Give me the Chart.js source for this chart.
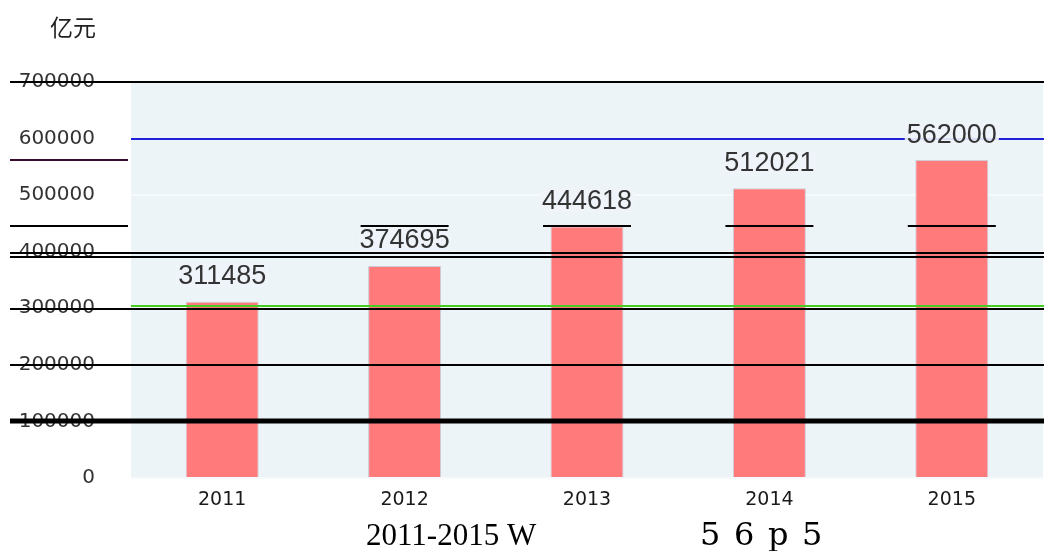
<!DOCTYPE html>
<html>
<head>
<meta charset="utf-8">
<title>2011-2015</title>
<script src="https://cdn.jsdelivr.net/npm/chart.js"></script>
<style>
  html, body { margin: 0; padding: 0; background: #fff; }
  #wrap { width: 1044px; height: 551px; position: relative; }
</style>
</head>
<body>
<div id="wrap"><canvas id="chart" width="1044" height="551"></canvas></div>
<script>
// chart data
const years = ['2011', '2012', '2013', '2014', '2015'];
const amounts = [311485, 374695, 444618, 512021, 562000];
const yTicks = [0, 100000, 200000, 300000, 400000, 500000, 600000, 700000];
const unitLabel = '亿元';
const titleLeft = '2011-2015 W';
const titleRight = '56p5';

// plot background + the stray rule lines of the original
const backdrop = {
  id: 'backdrop',
  beforeDraw(chart) {
    const { ctx, chartArea: a } = chart;
    ctx.save();
    ctx.fillStyle = '#edf4f8';
    ctx.fillRect(a.left, a.top, a.right - a.left, a.bottom - a.top);
    ctx.restore();
  },
  afterDatasetsDraw(chart) {
    const { ctx, chartArea: a } = chart;
    const y = chart.scales.y;
    const x = chart.scales.x;
    const W = chart.width;
    const line = (v, color, width, x0, x1, dy = 0) => {
      const py = Math.round(y.getPixelForValue(v)) + dy;
      ctx.strokeStyle = color;
      ctx.lineWidth = width;
      ctx.beginPath();
      ctx.moveTo(x0, py);
      ctx.lineTo(x1, py);
      ctx.stroke();
    };
    ctx.save();
    line(700000, '#000', 2, 10, W);
    line(600000, '#2020d8', 2, a.left, W);
    line(amounts[4], '#3a0a30', 2, 10, a.left - 3);
    // short rules at the 2013 level
    line(amounts[2], '#000', 2, 10, a.left - 3, 0);
    x.ticks.forEach((t, i) => {
      if (i === 0) return;
      const cx = x.getPixelForTick(i);
      line(amounts[2], '#000', 2, cx - 44, cx + 44);
    });
    line(400000, '#000', 2, 10, W, 1);
    line(400000, '#000', 2, 10, W, 5);
    line(300000, '#44cc22', 2, a.left, W, -2);
    line(300000, '#000', 2, 10, W, 1);
    line(200000, '#000', 2, 10, W);
    line(100000, '#000', 5, 10, W);
    ctx.restore();
  },
  afterDraw(chart) {
    const { ctx } = chart;
    const meta = chart.getDatasetMeta(0);
    ctx.save();
    ctx.font = '27px "Liberation Sans", Arial, sans-serif';
    ctx.textAlign = 'center';
    ctx.textBaseline = 'middle';
    meta.data.forEach((bar, i) => {
      const txt = String(amounts[i]);
      const w = ctx.measureText(txt).width;
      ctx.fillStyle = 'rgba(237,244,248,0.9)';
      ctx.fillRect(bar.x - w / 2 - 2, bar.y - 38, w + 4, 24);
      ctx.fillStyle = '#333';
      ctx.fillText(txt, bar.x, bar.y - 25);
    });
    // unit label
    ctx.font = '23px "Noto Sans CJK SC", sans-serif';
    ctx.textAlign = 'right';
    ctx.fillStyle = '#222';
    ctx.fillText(unitLabel, 96, 27);
    // bottom title
    ctx.font = '31px "Liberation Serif", "Times New Roman", serif';
    ctx.textAlign = 'left';
    ctx.textBaseline = 'alphabetic';
    ctx.fillStyle = '#000';
    ctx.fillText(titleLeft, 366, 545);
    ctx.font = '32px "DejaVu Serif", serif';
    let px = 700;
    for (const ch of titleRight) {
      ctx.fillText(ch, px, 545);
      px += 34;
    }
    ctx.restore();
  }
};

new Chart(document.getElementById('chart'), {
  type: 'bar',
  data: {
    labels: years,
    datasets: [{
      data: amounts,
      backgroundColor: '#ff7b7b',
      borderColor: 'rgba(190,190,200,0.7)',
      borderWidth: 1,
      barPercentage: 0.4,
      categoryPercentage: 1
    }]
  },
  options: {
    responsive: false,
    animation: false,
    layout: { padding: { left: 0, right: 1, top: 82, bottom: 0 } },
    plugins: { legend: { display: false }, tooltip: { enabled: false } },
    scales: {
      x: {
        grid: { display: false, drawTicks: false },
        border: { display: false },
        ticks: {
          color: '#1a1a1a',
          padding: 11,
          font: { family: '"DejaVu Sans", sans-serif', size: 19 }
        },
        afterFit(scale) { scale.height = 73; }
      },
      y: {
        min: 0,
        max: 700000,
        afterBuildTicks(scale) { scale.ticks = yTicks.map(v => ({ value: v })); },
        grid: { color: '#f7fafc', lineWidth: 2, drawTicks: false },
        border: { display: false },
        ticks: {
          color: '#333',
          padding: 36,
          font: { family: '"DejaVu Sans", sans-serif', size: 20 },
          callback: v => String(v)
        },
        afterFit(scale) { scale.width = 131; }
      }
    }
  },
  plugins: [backdrop]
});
</script>
</body>
</html>
